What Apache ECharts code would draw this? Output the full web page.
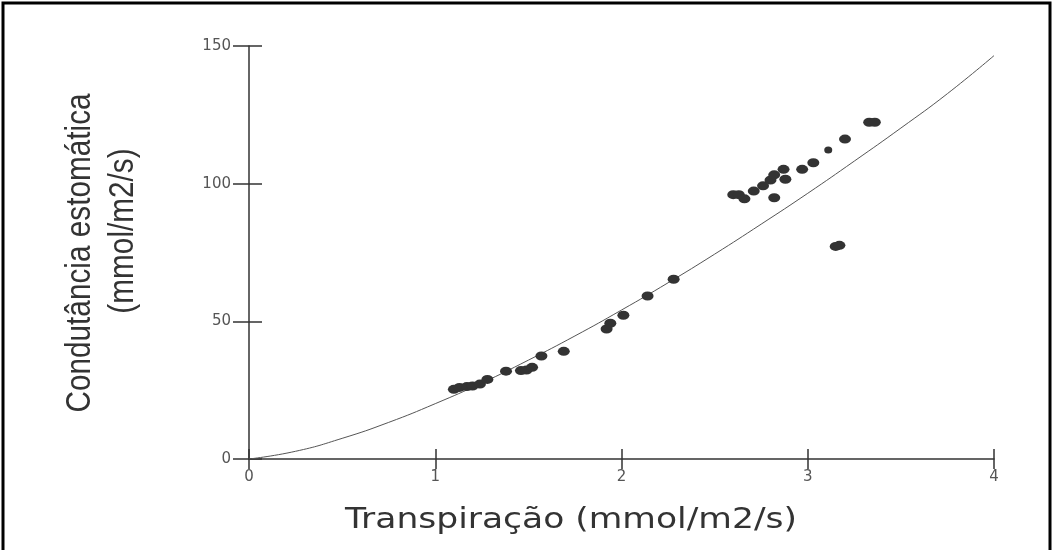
<!DOCTYPE html>
<html>
<head>
<meta charset="utf-8">
<title>Condutância estomática x Transpiração</title>
<script src="https://cdn.jsdelivr.net/npm/echarts@6/dist/echarts.min.js"></script>
<style>
  html, body { margin: 0; padding: 0; background: #fff; }
  #chart { width: 1055px; height: 550px; }
</style>
</head>
<body>
<div id="chart"></div>
<script>
// pontos medidos (transpiração, condutância)
const pointX = [1.10, 1.13, 1.17, 1.20, 1.24, 1.28, 1.38, 1.46, 1.49, 1.52, 1.57, 1.69,
  1.92, 1.94, 2.01, 2.14, 2.28, 2.60, 2.63, 2.66, 2.71, 2.76, 2.80, 2.82, 2.82,
  2.87, 2.88, 2.97, 3.03, 3.20, 3.33, 3.36, 3.15, 3.17]
const pointY = [25.3, 26.0, 26.3, 26.5, 27.2, 28.9, 31.9, 32.1, 32.3, 33.3, 37.4, 39.1,
  47.2, 49.3, 52.2, 59.2, 65.3, 96.0, 96.0, 94.5, 97.3, 99.2, 101.3, 103.2, 94.9,
  105.2, 101.6, 105.2, 107.6, 116.2, 122.3, 122.3, 77.2, 77.6]
// ponto menor
const smallX = [3.11]
const smallY = [112.2]
// curva ajustada
const curveX = [0, 0.25, 0.5, 0.75, 1, 1.25, 1.5, 1.75, 2, 2.25, 2.5, 2.75, 3, 3.25, 3.5, 3.75, 4]
const curveY = [0, 2.8, 7.5, 13.3, 20.1, 27.6, 35.9, 44.7, 54.1, 64.0, 74.4, 85.3, 96.5, 108.2, 120.2, 132.7, 146.5]
const xTicks = [0, 1, 2, 3, 4]
const yTicks = [0, 50, 100, 150]

const zip = (xs, ys) => xs.map((x, i) => [x, ys[i]])

const chart = echarts.init(document.getElementById('chart'))

const axisColor = '#333'
const labelStyle = {
  color: '#555',
  fontFamily: 'DejaVu Sans',
  fontSize: 15
}
const narrowFont = "'Liberation Sans', Arial, sans-serif"

const option = {
  animation: false,
  backgroundColor: '#fff',
  grid: {
    left: 249,
    right: 61,
    top: 46,
    bottom: 91
  },
  xAxis: [
    {
      type: 'value',
      min: xTicks[0],
      max: xTicks[xTicks.length - 1],
      interval: 1,
      axisLine: { lineStyle: { color: axisColor, width: 1.5 } },
      axisTick: { show: true, length: 10, lineStyle: { color: axisColor, width: 1.5 } },
      axisLabel: { ...labelStyle, margin: 11 },
      splitLine: { show: false }
    },
    {
      // so para os ticks que cruzam o eixo
      type: 'value',
      min: xTicks[0],
      max: xTicks[xTicks.length - 1],
      interval: 1,
      position: 'bottom',
      axisLine: { show: false },
      axisTick: { show: true, inside: true, length: 10, lineStyle: { color: axisColor, width: 1.5 } },
      axisLabel: { show: false },
      splitLine: { show: false }
    }
  ],
  yAxis: [
    {
      type: 'value',
      min: yTicks[0],
      max: yTicks[yTicks.length - 1],
      interval: 50,
      axisLine: { show: true, lineStyle: { color: axisColor, width: 1.5 } },
      axisTick: { show: true, length: 16, lineStyle: { color: axisColor, width: 1.5 } },
      axisLabel: { ...labelStyle, margin: 18 },
      splitLine: { show: false }
    },
    {
      type: 'value',
      min: yTicks[0],
      max: yTicks[yTicks.length - 1],
      interval: 50,
      position: 'left',
      axisLine: { show: false },
      axisTick: { show: true, inside: true, length: 13, lineStyle: { color: axisColor, width: 1.5 } },
      axisLabel: { show: false },
      splitLine: { show: false }
    }
  ],
  series: [
    {
      type: 'line',
      data: zip(curveX, curveY),
      smooth: true,
      symbol: 'none',
      lineStyle: { color: '#555', width: 1 },
      z: 1
    },
    {
      type: 'scatter',
      data: zip(pointX, pointY),
      symbol: 'circle',
      symbolSize: [12, 9],
      itemStyle: { color: '#333', opacity: 1 },
      z: 3
    },
    {
      type: 'scatter',
      data: zip(smallX, smallY),
      symbol: 'circle',
      symbolSize: [8, 7],
      itemStyle: { color: '#333', opacity: 1 },
      z: 3
    }
  ],
  graphic: [
    {
      // moldura
      type: 'rect',
      shape: { x: 3, y: 3, width: 1047, height: 600 },
      style: { fill: 'none', stroke: '#000', lineWidth: 3 },
      silent: true
    },
    {
      type: 'text',
      x: 571,
      y: 520,
      scaleX: 1.19,
      style: {
        text: 'Transpiração (mmol/m2/s)',
        fill: '#333',
        fontFamily: 'DejaVu Sans',
        fontSize: 29,
        align: 'center',
        verticalAlign: 'middle'
      }
    },
    {
      type: 'text',
      x: 80,
      y: 253,
      rotation: Math.PI / 2,
      scaleX: 0.85,
      style: {
        text: 'Condutância estomática',
        fill: '#333',
        fontFamily: narrowFont,
        fontSize: 35,
        align: 'center',
        verticalAlign: 'middle'
      }
    },
    {
      type: 'text',
      x: 123,
      y: 231,
      rotation: Math.PI / 2,
      scaleX: 0.85,
      style: {
        text: '(mmol/m2/s)',
        fill: '#333',
        fontFamily: narrowFont,
        fontSize: 35,
        align: 'center',
        verticalAlign: 'middle'
      }
    }
  ]
}

chart.setOption(option)
</script>
</body>
</html>
